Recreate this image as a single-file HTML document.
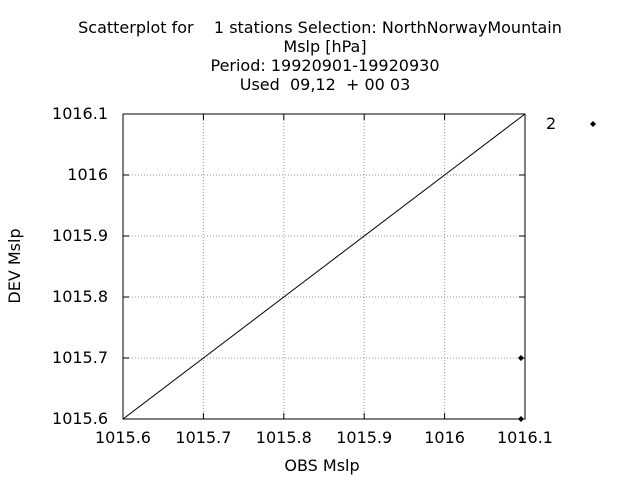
<!DOCTYPE html>
<html><head><meta charset="utf-8"><style>
body{margin:0;background:#fff;}
svg text{font-family:"DejaVu Sans","Liberation Sans",sans-serif;font-size:16px;fill:#000;}
</style></head><body>
<svg id="chart" width="640" height="480">
<g>
<text x="320" y="33" text-anchor="middle" xml:space="preserve">Scatterplot for    1 stations Selection: NorthNorwayMountain</text>
<text x="325" y="52" text-anchor="middle">Mslp [hPa]</text>
<text x="325" y="71" text-anchor="middle">Period: 19920901-19920930</text>
<text x="325" y="90" text-anchor="middle" xml:space="preserve">Used  09,12  + 00 03</text>
</g>
<g id="grid"></g>
<g id="ticks"></g>
<rect x="123" y="114" width="402" height="305" fill="none" stroke="#000"/>
<line id="diag" stroke="#000" stroke-width="1"/>
<g id="pts"></g>
<text x="20" y="266" text-anchor="middle" transform="rotate(-90 20 266)">DEV Mslp</text>
<text x="322" y="471" text-anchor="middle">OBS Mslp</text>
<text x="546" y="129">2</text>
<path d="M593 121 L596 124 L593 127 L590 124 Z" fill="#000"/>
</svg>
<script>
const xTicks=[1015.6,1015.7,1015.8,1015.9,1016,1016.1];
const xTickLabels=["1015.6","1015.7","1015.8","1015.9","1016","1016.1"];
const yTicks=[1015.6,1015.7,1015.8,1015.9,1016,1016.1];
const yTickLabels=["1015.6","1015.7","1015.8","1015.9","1016","1016.1"];
const obsValues=[1016.095,1016.095];
const devValues=[1015.7,1015.6];
const x0=123,x1=525,y0=419,y1=114,min=1015.6,max=1016.1;
const sx=v=>x0+(v-min)/(max-min)*(x1-x0);
const sy=v=>y0-(v-min)/(max-min)*(y0-y1);
const NS="http://www.w3.org/2000/svg";
const grid=document.getElementById('grid'),ticks=document.getElementById('ticks'),pts=document.getElementById('pts');
function mk(tag,a,parent){const e=document.createElementNS(NS,tag);for(const k in a)e.setAttribute(k,a[k]);parent.appendChild(e);return e;}
xTicks.forEach((v,i)=>{
 const x=sx(v);
 if(i>0&&i<xTicks.length-1){const g=mk('line',{x1:x,x2:x,y1:y1,y2:y0,stroke:'#999','stroke-dasharray':'1,2'},grid);
 
 }
 mk('line',{x1:x,x2:x,y1:y0,y2:y0-6,stroke:'#000'},ticks);
 mk('line',{x1:x,x2:x,y1:y1,y2:y1+6,stroke:'#000'},ticks);
 const t=mk('text',{x:x,y:443,'text-anchor':'middle'},ticks);t.textContent=xTickLabels[i];
 
 
});
yTicks.forEach((v,i)=>{
 const y=sy(v);
 if(i>0&&i<yTicks.length-1){const g=mk('line',{x1:x0,x2:x1,y1:y,y2:y,stroke:'#999','stroke-dasharray':'1,2'},grid);
 
 }
 mk('line',{x1:x0,x2:x0+6,y1:y,y2:y,stroke:'#000'},ticks);
 mk('line',{x1:x1,x2:x1-6,y1:y,y2:y,stroke:'#000'},ticks);
 const t=mk('text',{x:108,y:y+5,'text-anchor':'end'},ticks);t.textContent=yTickLabels[i];
 
 
});
const d=document.getElementById('diag');
d.setAttribute('x1',sx(min));d.setAttribute('y1',sy(min));d.setAttribute('x2',sx(max));d.setAttribute('y2',sy(max));
obsValues.forEach((v,i)=>{
 const x=sx(v),y=sy(devValues[i]);
 const p=mk('path',{d:`M${x} ${y-3} L${x+3} ${y} L${x} ${y+3} L${x-3} ${y} Z`,fill:'#000'},pts);
 
 
});
</script>
</body></html>
